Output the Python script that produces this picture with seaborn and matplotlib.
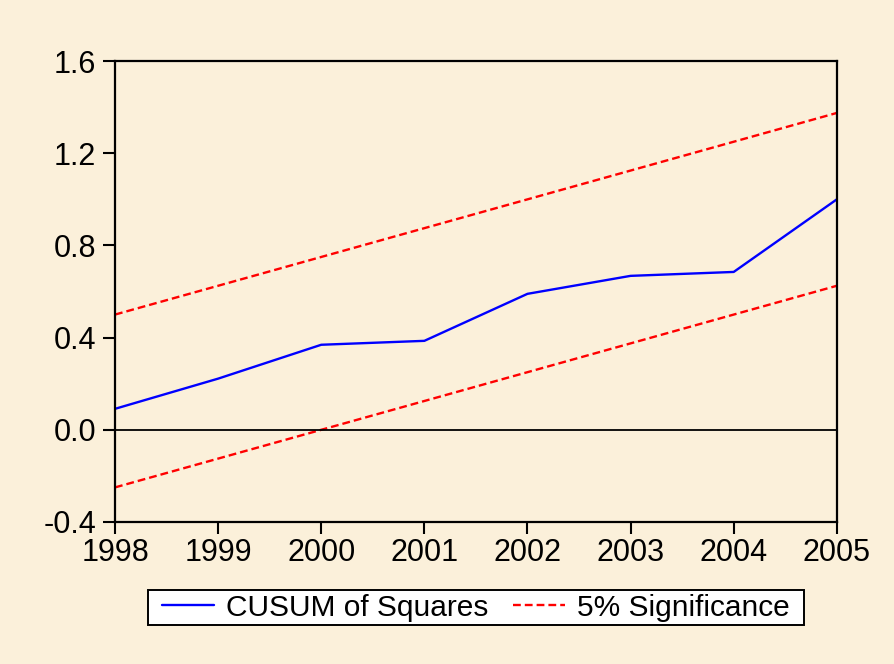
import pandas as pd
import numpy as np
import matplotlib.pyplot as plt
import seaborn as sns

sns.set_style('ticks')
plt.rcParams['font.family'] = ['Liberation Sans', 'DejaVu Sans']

# data
years = [1998, 1999, 2000, 2001, 2002, 2003, 2004, 2005]
cusum_sq = [0.091, 0.222, 0.369, 0.386, 0.590, 0.668, 0.685, 1.000]
upper = [0.500, 0.625, 0.750, 0.875, 1.000, 1.125, 1.250, 1.375]
lower = [-0.250, -0.125, 0.000, 0.125, 0.250, 0.375, 0.500, 0.625]

df = pd.DataFrame({'year': years, 'cusum': cusum_sq, 'upper': upper, 'lower': lower})

bg = '#FBF0DA'
fig = plt.figure(figsize=(8.95, 6.64), dpi=100, facecolor=bg)
ax = fig.add_axes([0.1285, 0.2139, 0.8065, 0.6941])
ax.set_facecolor(bg)

dash = (0, (3.3, 1.7))
sns.lineplot(data=df, x='year', y='cusum', ax=ax, color='#0000FF', lw=1.7, label='CUSUM of Squares')
sns.lineplot(data=df, x='year', y='upper', ax=ax, color='#FF0000', lw=1.7, ls=dash, label='5% Significance')
sns.lineplot(data=df, x='year', y='lower', ax=ax, color='#FF0000', lw=1.7, ls=dash, label='_nolegend_')
ax.axhline(0, color='black', lw=1.3)

ax.set_xlim(1998, 2005)
ax.set_ylim(-0.4, 1.6)
ax.set_xticks(years)
ax.set_yticks([-0.4, 0.0, 0.4, 0.8, 1.2, 1.6])
ax.set_yticklabels(['-0.4', '0.0', '0.4', '0.8', '1.2', '1.6'])
ax.set_xlabel('')
ax.set_ylabel('')
ax.tick_params(axis='both', direction='out', length=8.5, width=1.5, labelsize=22,
               color='black', labelcolor='black')
ax.tick_params(axis='x', pad=3)
ax.tick_params(axis='y', pad=5)
for s in ax.spines.values():
    s.set_linewidth(1.6)
    s.set_color('black')

leg = ax.legend(loc='upper center', bbox_to_anchor=(0.5, -0.1475), ncol=2, frameon=True,
                fancybox=False, fontsize=21.5, handlelength=1.74, columnspacing=0.8,
                borderpad=0.12, handletextpad=0.43, borderaxespad=0)
for t in leg.get_texts():
    t.set_color('black')
frame = leg.get_frame()
frame.set_edgecolor('black')
frame.set_linewidth(1.4)
frame.set_facecolor('white')
frame.set_alpha(1)
# wider horizontal padding than vertical
frame.set_boxstyle('square', pad=0.35)
frame.set_mutation_aspect(0.01)

fig.savefig('out.png', dpi=100, facecolor=bg)
